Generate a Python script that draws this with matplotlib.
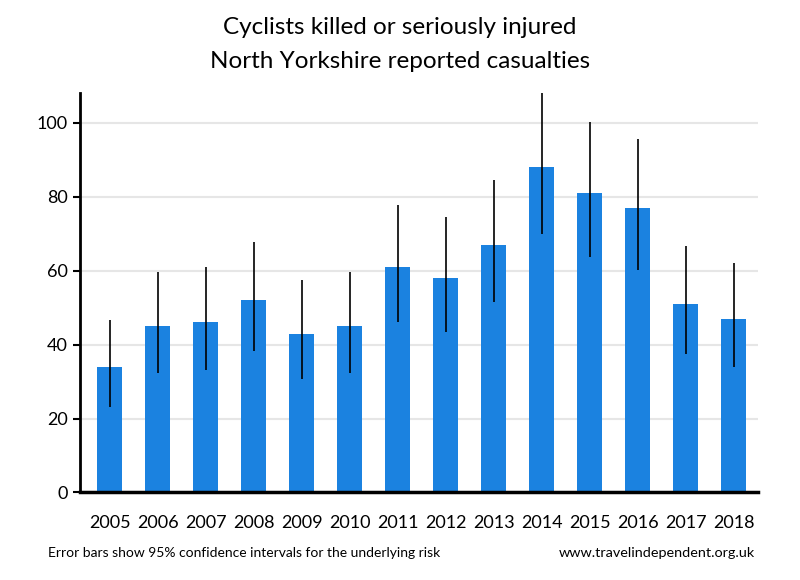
import matplotlib
matplotlib.use("Agg")
import matplotlib.pyplot as plt
import numpy as np

years = ["2005", "2006", "2007", "2008", "2009", "2010", "2011",
         "2012", "2013", "2014", "2015", "2016", "2017", "2018"]
values = [34, 45, 46, 52, 43, 45, 61, 58, 67, 88, 81, 77, 51, 47]
ci_low = [23.2, 32.4, 33.2, 38.3, 30.7, 32.4, 46.2, 43.5, 51.6, 70.0, 63.8, 60.3, 37.5, 34.0]
ci_high = [46.8, 59.6, 61.0, 67.7, 57.5, 59.6, 77.8, 74.5, 84.5, 108.4, 100.2, 95.6, 66.7, 62.1]
yticks = [0, 20, 40, 60, 80, 100]

title1 = "Cyclists killed or seriously injured"
title2 = "North Yorkshire reported casualties"
note_left = "Error bars show 95% confidence intervals for the underlying risk"
note_right = "www.travelindependent.org.uk"

plt.rcParams['font.family'] = ['Lato', 'DejaVu Sans']

fig = plt.figure(figsize=(8, 5.8), dpi=100)
ax = fig.add_axes([0.1, 0.151, 0.847, 0.688])

x = np.arange(len(years))
vals = np.array(values)
lo = vals - np.array(ci_low)
hi = np.array(ci_high) - vals

ax.set_axisbelow(True)
ax.yaxis.grid(True, color="#e6e6e6", linewidth=1.5)
ax.bar(x, vals, width=0.52, color="#1b82e0", zorder=2)
ax.errorbar(x, vals, yerr=[lo, hi], fmt="none", ecolor="black",
            elinewidth=1.2, capsize=0, zorder=3)

ax.set_xlim(-0.615, 13.5)
ax.set_ylim(0, 108)
ax.set_yticks(yticks)
ax.set_xticks(x)
ax.set_xticklabels(years)
ax.tick_params(axis="x", length=0, pad=16, labelsize=13)
ax.tick_params(axis="y", length=5, width=1.5, pad=4, labelsize=13)
for s in ["top", "right"]:
    ax.spines[s].set_visible(False)
ax.spines["left"].set_linewidth(2)
ax.spines["bottom"].set_linewidth(2.5)

fig.text(0.5, 1 - 28 / 580, title1, ha="center", va="center", fontsize=17.5)
fig.text(0.5, 1 - 62 / 580, title2, ha="center", va="center", fontsize=17.5)
fig.text(0.06, 0.047, note_left, ha="left", va="center", fontsize=10)
fig.text(0.944, 0.047, note_right, ha="right", va="center", fontsize=10.4)

fig.savefig("out.png", dpi=100)
